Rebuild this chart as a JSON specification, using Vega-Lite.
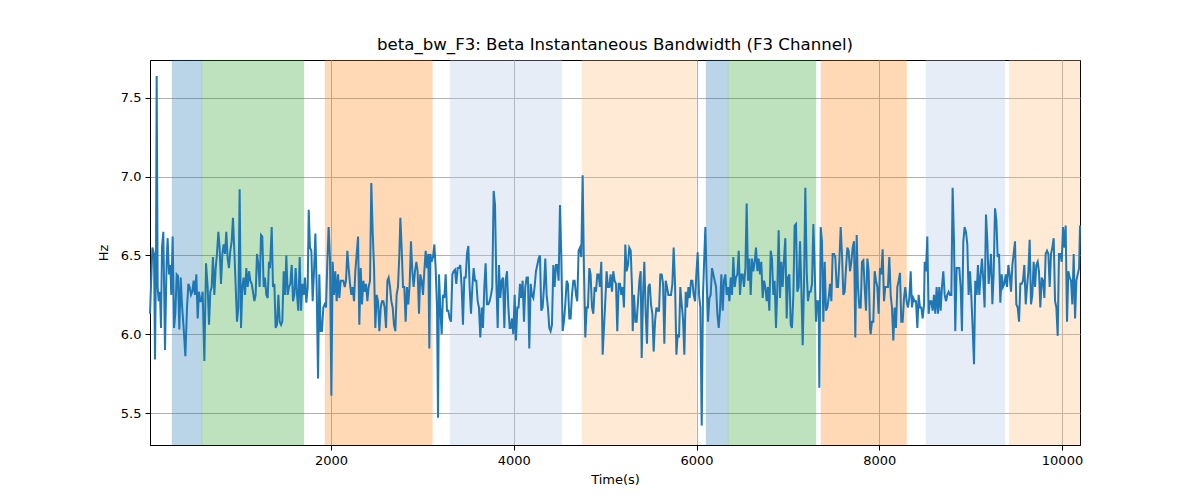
{
  "$schema": "https://vega.github.io/schema/vega-lite/v6.json",
  "width": 930,
  "height": 385,
  "autosize": {"type": "none"},
  "padding": {"left": 150, "top": 60, "right": 120, "bottom": 55},
  "background": "white",
  "config": {
    "view": {"stroke": "black", "strokeWidth": 1},
    "font": "DejaVu Sans",
    "axis": {
      "labelFont": "DejaVu Sans", "labelFontSize": 13, "labelColor": "black",
      "titleFont": "DejaVu Sans", "titleFontSize": 13, "titleFontWeight": "normal", "titleColor": "black",
      "domainColor": "black", "tickColor": "black", "tickSize": 5,
      "gridColor": "#b0b0b0", "gridWidth": 1, "gridOpacity": 1
    }
  },
  "title": {"text": "beta_bw_F3: Beta Instantaneous Bandwidth (F3 Channel)", "fontSize": 16.6, "fontWeight": "normal", "font": "DejaVu Sans", "color": "black", "anchor": "middle", "offset": 6},
  "datasets": {
    "bands": [
      {"start": 260, "end": 588, "kind": "a"},
      {"start": 588, "end": 1704, "kind": "b"},
      {"start": 1934, "end": 3110, "kind": "c"},
      {"start": 3302, "end": 4525, "kind": "d"},
      {"start": 4747, "end": 6000, "kind": "e"},
      {"start": 6104, "end": 6348, "kind": "a"},
      {"start": 6348, "end": 7308, "kind": "b"},
      {"start": 7362, "end": 8300, "kind": "c"},
      {"start": 8511, "end": 9376, "kind": "d"},
      {"start": 9420, "end": 10197, "kind": "e"}
    ],
    "series": [
      {"t":19,"v":6.13},{"t":45,"v":6.55},{"t":63,"v":6.51},{"t":74,"v":5.84},{"t":85,"v":6.51},{"t":92,"v":7.64},{"t":103,"v":6.30},{"t":114,"v":6.21},{"t":128,"v":6.27},{"t":139,"v":6.04},{"t":150,"v":6.55},{"t":165,"v":6.65},{"t":183,"v":5.90},{"t":201,"v":6.46},{"t":212,"v":6.61},{"t":227,"v":6.38},{"t":241,"v":6.44},{"t":252,"v":6.25},{"t":267,"v":6.62},{"t":282,"v":6.04},{"t":296,"v":6.13},{"t":311,"v":6.38},{"t":325,"v":6.37},{"t":340,"v":6.03},{"t":355,"v":6.36},{"t":369,"v":6.19},{"t":387,"v":6.04},{"t":406,"v":5.86},{"t":424,"v":6.17},{"t":439,"v":6.32},{"t":453,"v":6.30},{"t":468,"v":6.25},{"t":482,"v":6.27},{"t":497,"v":6.34},{"t":511,"v":6.25},{"t":526,"v":6.38},{"t":541,"v":6.10},{"t":555,"v":6.27},{"t":570,"v":6.21},{"t":584,"v":6.21},{"t":595,"v":6.27},{"t":614,"v":5.83},{"t":632,"v":6.45},{"t":650,"v":6.30},{"t":665,"v":6.06},{"t":679,"v":6.27},{"t":694,"v":6.30},{"t":708,"v":6.49},{"t":723,"v":6.25},{"t":738,"v":6.42},{"t":752,"v":6.51},{"t":767,"v":6.65},{"t":781,"v":6.55},{"t":796,"v":6.32},{"t":811,"v":6.51},{"t":825,"v":6.57},{"t":840,"v":6.51},{"t":854,"v":6.65},{"t":869,"v":6.48},{"t":883,"v":6.42},{"t":898,"v":6.53},{"t":913,"v":6.59},{"t":927,"v":6.74},{"t":942,"v":6.53},{"t":957,"v":6.30},{"t":971,"v":6.08},{"t":986,"v":6.17},{"t":1000,"v":6.92},{"t":1015,"v":6.04},{"t":1030,"v":6.30},{"t":1044,"v":6.36},{"t":1059,"v":6.25},{"t":1073,"v":6.42},{"t":1088,"v":6.30},{"t":1103,"v":6.40},{"t":1117,"v":6.34},{"t":1132,"v":6.32},{"t":1146,"v":6.27},{"t":1161,"v":6.21},{"t":1175,"v":6.25},{"t":1190,"v":6.51},{"t":1205,"v":6.44},{"t":1219,"v":6.30},{"t":1234,"v":6.63},{"t":1248,"v":6.62},{"t":1263,"v":6.30},{"t":1277,"v":6.36},{"t":1292,"v":6.25},{"t":1307,"v":6.23},{"t":1321,"v":6.46},
      {"t":1332,"v":6.42},{"t":1351,"v":6.68},{"t":1365,"v":6.30},{"t":1380,"v":6.32},{"t":1394,"v":6.04},{"t":1409,"v":6.06},{"t":1424,"v":6.25},{"t":1438,"v":6.08},{"t":1453,"v":6.06},{"t":1467,"v":6.08},{"t":1482,"v":6.40},{"t":1497,"v":6.25},{"t":1511,"v":6.50},{"t":1526,"v":6.25},{"t":1540,"v":6.30},{"t":1555,"v":6.32},{"t":1570,"v":6.44},{"t":1584,"v":6.21},{"t":1599,"v":6.25},{"t":1613,"v":6.42},{"t":1628,"v":6.25},{"t":1642,"v":6.15},{"t":1657,"v":6.49},{"t":1672,"v":6.15},{"t":1686,"v":6.32},{"t":1701,"v":6.25},{"t":1715,"v":6.36},{"t":1730,"v":6.20},{"t":1745,"v":6.30},{"t":1756,"v":6.79},{"t":1770,"v":6.55},{"t":1785,"v":6.53},{"t":1799,"v":6.21},{"t":1814,"v":6.40},{"t":1829,"v":6.64},{"t":1843,"v":6.30},{"t":1858,"v":5.72},{"t":1872,"v":6.38},{"t":1887,"v":6.02},{"t":1901,"v":6.02},{"t":1916,"v":6.17},{"t":1931,"v":6.19},{"t":1945,"v":6.17},{"t":1960,"v":6.46},{"t":1974,"v":6.68},{"t":1989,"v":6.48},{"t":2004,"v":5.61},{"t":2018,"v":6.46},{"t":2033,"v":6.25},{"t":2047,"v":6.40},{"t":2062,"v":6.21},{"t":2077,"v":6.38},{"t":2091,"v":6.23},{"t":2106,"v":6.34},{"t":2120,"v":6.34},{"t":2135,"v":6.34},{"t":2150,"v":6.30},{"t":2164,"v":6.34},{"t":2179,"v":6.53},{"t":2193,"v":6.42},{"t":2208,"v":6.32},{"t":2222,"v":6.25},{"t":2237,"v":6.30},{"t":2252,"v":6.21},{"t":2266,"v":6.40},{"t":2281,"v":6.51},{"t":2296,"v":6.62},{"t":2310,"v":6.06},{"t":2325,"v":6.42},{"t":2339,"v":6.19},{"t":2354,"v":6.34},{"t":2369,"v":6.27},{"t":2383,"v":6.32},{"t":2398,"v":6.21},{"t":2412,"v":6.30},{"t":2427,"v":6.34},{"t":2441,"v":6.96},{"t":2456,"v":6.65},{"t":2471,"v":6.42},{"t":2485,"v":6.04},{"t":2500,"v":6.25},{"t":2514,"v":6.21},{"t":2529,"v":6.02},{"t":2544,"v":6.17},{"t":2558,"v":6.21},{"t":2573,"v":6.21},{"t":2587,"v":6.17},{"t":2602,"v":6.04},{"t":2617,"v":6.34},{"t":2631,"v":6.36},{"t":2646,"v":6.30},
      {"t":2660,"v":6.21},{"t":2675,"v":6.17},{"t":2689,"v":6.06},{"t":2704,"v":6.02},{"t":2718,"v":6.25},{"t":2733,"v":6.30},{"t":2748,"v":6.51},{"t":2759,"v":6.74},{"t":2773,"v":6.55},{"t":2788,"v":6.30},{"t":2802,"v":6.30},{"t":2817,"v":6.08},{"t":2831,"v":6.30},{"t":2846,"v":6.19},{"t":2861,"v":6.32},{"t":2875,"v":6.59},{"t":2890,"v":6.40},{"t":2904,"v":6.30},{"t":2919,"v":6.40},{"t":2934,"v":6.46},{"t":2948,"v":6.40},{"t":2963,"v":6.13},{"t":2977,"v":6.38},{"t":2992,"v":6.34},{"t":3007,"v":6.25},{"t":3021,"v":6.40},{"t":3036,"v":6.53},{"t":3050,"v":6.42},{"t":3065,"v":6.51},{"t":3076,"v":5.91},{"t":3087,"v":6.51},{"t":3101,"v":6.46},{"t":3116,"v":6.49},{"t":3131,"v":6.57},{"t":3145,"v":6.42},{"t":3160,"v":6.17},{"t":3171,"v":5.47},{"t":3182,"v":6.38},{"t":3196,"v":6.17},{"t":3211,"v":6.00},{"t":3225,"v":6.25},{"t":3240,"v":6.23},{"t":3255,"v":6.38},{"t":3269,"v":6.15},{"t":3284,"v":6.15},{"t":3298,"v":6.10},{"t":3313,"v":6.08},{"t":3328,"v":6.38},{"t":3342,"v":6.40},{"t":3357,"v":6.41},{"t":3371,"v":6.32},{"t":3386,"v":6.42},{"t":3401,"v":6.42},{"t":3415,"v":6.44},{"t":3430,"v":6.30},{"t":3444,"v":6.06},{"t":3459,"v":6.36},{"t":3474,"v":6.36},{"t":3488,"v":6.51},{"t":3503,"v":6.56},{"t":3517,"v":6.30},{"t":3532,"v":6.13},{"t":3547,"v":6.30},{"t":3561,"v":6.42},{"t":3576,"v":6.34},{"t":3590,"v":6.34},{"t":3605,"v":6.21},{"t":3619,"v":6.17},{"t":3634,"v":5.98},{"t":3649,"v":6.17},{"t":3663,"v":6.04},{"t":3678,"v":6.30},{"t":3692,"v":6.45},{"t":3707,"v":6.19},{"t":3722,"v":6.19},{"t":3736,"v":6.21},{"t":3751,"v":6.25},{"t":3765,"v":6.30},{"t":3780,"v":6.91},{"t":3795,"v":6.82},{"t":3809,"v":6.34},{"t":3824,"v":6.04},{"t":3838,"v":6.44},{"t":3853,"v":6.23},{"t":3868,"v":6.34},{"t":3882,"v":6.36},{"t":3897,"v":6.04},{"t":3911,"v":6.34},{"t":3926,"v":6.40},{"t":3941,"v":6.17},{"t":3955,"v":6.04},
      {"t":3966,"v":6.04},{"t":3980,"v":6.10},{"t":3995,"v":6.00},{"t":4010,"v":6.25},{"t":4024,"v":5.96},{"t":4039,"v":6.17},{"t":4053,"v":6.17},{"t":4068,"v":6.32},{"t":4082,"v":6.23},{"t":4097,"v":6.34},{"t":4112,"v":6.08},{"t":4126,"v":6.30},{"t":4141,"v":6.36},{"t":4155,"v":6.36},{"t":4170,"v":5.91},{"t":4185,"v":6.32},{"t":4199,"v":6.25},{"t":4214,"v":6.23},{"t":4228,"v":6.30},{"t":4243,"v":6.40},{"t":4258,"v":6.44},{"t":4272,"v":6.48},{"t":4287,"v":6.50},{"t":4301,"v":6.15},{"t":4316,"v":6.17},{"t":4331,"v":6.30},{"t":4345,"v":6.48},{"t":4360,"v":6.25},{"t":4374,"v":6.17},{"t":4389,"v":6.04},{"t":4403,"v":6.02},{"t":4418,"v":6.06},{"t":4433,"v":6.44},{"t":4447,"v":6.30},{"t":4462,"v":6.44},{"t":4476,"v":6.44},{"t":4491,"v":6.34},{"t":4506,"v":6.82},{"t":4520,"v":6.51},{"t":4535,"v":6.02},{"t":4549,"v":6.08},{"t":4564,"v":6.19},{"t":4579,"v":6.34},{"t":4593,"v":6.32},{"t":4608,"v":6.10},{"t":4622,"v":6.10},{"t":4637,"v":6.25},{"t":4652,"v":6.34},{"t":4666,"v":6.34},{"t":4681,"v":6.25},{"t":4695,"v":6.21},{"t":4710,"v":6.53},{"t":4725,"v":6.55},{"t":4739,"v":6.49},{"t":4754,"v":7.01},{"t":4768,"v":6.42},{"t":4783,"v":5.98},{"t":4798,"v":6.17},{"t":4812,"v":6.17},{"t":4827,"v":6.42},{"t":4841,"v":6.38},{"t":4856,"v":6.17},{"t":4871,"v":6.13},{"t":4885,"v":6.30},{"t":4900,"v":6.27},{"t":4914,"v":6.38},{"t":4929,"v":6.38},{"t":4943,"v":6.30},{"t":4958,"v":6.46},{"t":4973,"v":5.87},{"t":4987,"v":6.04},{"t":5002,"v":6.21},{"t":5016,"v":6.40},{"t":5031,"v":6.30},{"t":5046,"v":6.30},{"t":5060,"v":6.38},{"t":5075,"v":6.27},{"t":5089,"v":6.40},{"t":5104,"v":6.34},{"t":5119,"v":6.32},{"t":5133,"v":6.02},{"t":5148,"v":6.32},{"t":5162,"v":6.32},{"t":5177,"v":6.25},{"t":5191,"v":6.30},{"t":5206,"v":6.17},{"t":5221,"v":6.57},{"t":5235,"v":6.40},{"t":5250,"v":6.44},{"t":5264,"v":6.55},
      {"t":5280,"v":6.53},{"t":5294,"v":6.30},{"t":5302,"v":6.02},{"t":5316,"v":6.25},{"t":5331,"v":6.08},{"t":5345,"v":6.08},{"t":5360,"v":6.21},{"t":5375,"v":6.34},{"t":5389,"v":6.40},{"t":5400,"v":5.85},{"t":5415,"v":6.25},{"t":5429,"v":6.46},{"t":5444,"v":6.13},{"t":5458,"v":5.94},{"t":5473,"v":6.30},{"t":5488,"v":6.32},{"t":5502,"v":6.19},{"t":5517,"v":6.13},{"t":5531,"v":5.89},{"t":5546,"v":6.08},{"t":5561,"v":6.17},{"t":5575,"v":6.15},{"t":5590,"v":6.15},{"t":5604,"v":6.38},{"t":5619,"v":6.38},{"t":5634,"v":6.32},{"t":5648,"v":5.94},{"t":5663,"v":6.34},{"t":5677,"v":6.30},{"t":5692,"v":6.25},{"t":5707,"v":6.25},{"t":5721,"v":6.25},{"t":5736,"v":6.32},{"t":5750,"v":6.55},{"t":5765,"v":6.32},{"t":5780,"v":5.87},{"t":5794,"v":6.00},{"t":5809,"v":5.98},{"t":5823,"v":6.30},{"t":5838,"v":6.19},{"t":5852,"v":6.10},{"t":5867,"v":5.87},{"t":5882,"v":6.27},{"t":5896,"v":6.17},{"t":5911,"v":6.30},{"t":5925,"v":6.23},{"t":5940,"v":6.34},{"t":5955,"v":6.34},{"t":5969,"v":6.25},{"t":5984,"v":6.21},{"t":5998,"v":6.38},{"t":6013,"v":6.52},{"t":6028,"v":6.25},{"t":6042,"v":6.17},{"t":6057,"v":5.42},{"t":6071,"v":6.25},{"t":6086,"v":6.51},{"t":6097,"v":6.68},{"t":6111,"v":6.34},{"t":6126,"v":6.08},{"t":6141,"v":6.23},{"t":6155,"v":6.25},{"t":6170,"v":6.42},{"t":6184,"v":6.38},{"t":6199,"v":6.34},{"t":6214,"v":6.30},{"t":6228,"v":6.13},{"t":6243,"v":6.04},{"t":6257,"v":6.15},{"t":6272,"v":6.38},{"t":6287,"v":6.15},{"t":6301,"v":6.34},{"t":6316,"v":6.38},{"t":6330,"v":6.25},{"t":6345,"v":6.30},{"t":6360,"v":6.21},{"t":6374,"v":6.36},{"t":6389,"v":6.25},{"t":6403,"v":6.49},{"t":6418,"v":6.30},{"t":6432,"v":6.36},{"t":6447,"v":6.38},{"t":6462,"v":6.53},{"t":6476,"v":6.25},{"t":6491,"v":6.38},{"t":6505,"v":6.38},{"t":6520,"v":6.30},{"t":6535,"v":6.42},{"t":6549,"v":6.83},{"t":6564,"v":6.34},{"t":6578,"v":6.48},
      {"t":6593,"v":6.25},{"t":6607,"v":6.48},{"t":6622,"v":6.40},{"t":6637,"v":6.46},{"t":6651,"v":6.55},{"t":6666,"v":6.40},{"t":6680,"v":6.48},{"t":6695,"v":6.38},{"t":6709,"v":6.46},{"t":6724,"v":6.23},{"t":6739,"v":6.34},{"t":6753,"v":6.30},{"t":6768,"v":6.21},{"t":6782,"v":6.30},{"t":6797,"v":6.15},{"t":6812,"v":6.53},{"t":6826,"v":6.48},{"t":6841,"v":6.25},{"t":6855,"v":6.34},{"t":6870,"v":6.04},{"t":6885,"v":6.30},{"t":6899,"v":6.66},{"t":6914,"v":6.23},{"t":6928,"v":6.46},{"t":6943,"v":6.30},{"t":6958,"v":6.48},{"t":6972,"v":6.61},{"t":6987,"v":6.10},{"t":7001,"v":6.36},{"t":7016,"v":6.38},{"t":7031,"v":6.06},{"t":7045,"v":6.04},{"t":7060,"v":6.25},{"t":7074,"v":6.69},{"t":7089,"v":6.70},{"t":7103,"v":6.27},{"t":7118,"v":6.30},{"t":7133,"v":6.59},{"t":7147,"v":6.30},{"t":7162,"v":5.93},{"t":7176,"v":6.30},{"t":7191,"v":6.93},{"t":7206,"v":6.40},{"t":7220,"v":6.21},{"t":7235,"v":6.27},{"t":7249,"v":6.27},{"t":7264,"v":6.32},{"t":7279,"v":6.70},{"t":7293,"v":6.42},{"t":7308,"v":6.08},{"t":7322,"v":6.21},{"t":7337,"v":6.21},{"t":7344,"v":5.66},{"t":7359,"v":6.68},{"t":7373,"v":6.59},{"t":7388,"v":6.08},{"t":7403,"v":6.46},{"t":7417,"v":6.15},{"t":7432,"v":6.17},{"t":7446,"v":6.23},{"t":7461,"v":6.32},{"t":7476,"v":6.21},{"t":7490,"v":6.51},{"t":7505,"v":6.51},{"t":7519,"v":6.49},{"t":7534,"v":6.30},{"t":7549,"v":6.30},{"t":7563,"v":6.46},{"t":7578,"v":6.68},{"t":7592,"v":6.51},{"t":7607,"v":6.25},{"t":7622,"v":6.27},{"t":7636,"v":6.42},{"t":7651,"v":6.55},{"t":7665,"v":6.53},{"t":7680,"v":6.40},{"t":7695,"v":6.46},{"t":7709,"v":6.55},{"t":7724,"v":6.59},{"t":7738,"v":5.98},{"t":7753,"v":6.63},{"t":7767,"v":6.30},{"t":7782,"v":6.17},{"t":7797,"v":6.17},{"t":7811,"v":6.46},{"t":7826,"v":6.47},{"t":7840,"v":6.30},{"t":7855,"v":6.15},{"t":7870,"v":6.48},{"t":7884,"v":6.40},{"t":7899,"v":6.04},
      {"t":7906,"v":6.00},{"t":7920,"v":6.08},{"t":7935,"v":6.08},{"t":7950,"v":6.40},{"t":7964,"v":6.34},{"t":7979,"v":6.30},{"t":7993,"v":6.13},{"t":8008,"v":6.42},{"t":8022,"v":6.38},{"t":8037,"v":6.54},{"t":8052,"v":6.21},{"t":8066,"v":6.30},{"t":8081,"v":6.30},{"t":8095,"v":6.30},{"t":8110,"v":6.49},{"t":8125,"v":6.25},{"t":8139,"v":6.17},{"t":8154,"v":5.96},{"t":8168,"v":6.17},{"t":8183,"v":6.04},{"t":8198,"v":6.30},{"t":8212,"v":6.34},{"t":8227,"v":6.39},{"t":8241,"v":6.08},{"t":8256,"v":6.08},{"t":8271,"v":6.23},{"t":8285,"v":6.30},{"t":8300,"v":6.21},{"t":8314,"v":6.17},{"t":8329,"v":6.23},{"t":8344,"v":6.40},{"t":8358,"v":6.17},{"t":8373,"v":6.23},{"t":8387,"v":6.21},{"t":8402,"v":6.21},{"t":8417,"v":6.04},{"t":8431,"v":6.25},{"t":8446,"v":6.17},{"t":8460,"v":6.17},{"t":8475,"v":6.10},{"t":8490,"v":6.19},{"t":8497,"v":6.46},{"t":8511,"v":6.40},{"t":8526,"v":6.62},{"t":8540,"v":6.13},{"t":8555,"v":6.21},{"t":8570,"v":6.21},{"t":8584,"v":6.15},{"t":8599,"v":6.25},{"t":8613,"v":6.13},{"t":8628,"v":6.30},{"t":8643,"v":6.13},{"t":8657,"v":6.30},{"t":8672,"v":6.15},{"t":8686,"v":6.30},{"t":8701,"v":6.40},{"t":8716,"v":6.25},{"t":8730,"v":6.21},{"t":8745,"v":6.25},{"t":8759,"v":6.27},{"t":8774,"v":6.25},{"t":8789,"v":6.25},{"t":8803,"v":6.93},{"t":8818,"v":6.59},{"t":8832,"v":6.02},{"t":8847,"v":6.42},{"t":8862,"v":6.42},{"t":8876,"v":6.42},{"t":8891,"v":6.30},{"t":8905,"v":6.02},{"t":8920,"v":6.59},{"t":8934,"v":6.68},{"t":8949,"v":6.65},{"t":8964,"v":6.57},{"t":8978,"v":6.25},{"t":8993,"v":6.40},{"t":9007,"v":6.25},{"t":9022,"v":6.04},{"t":9037,"v":5.81},{"t":9051,"v":6.34},{"t":9066,"v":6.25},{"t":9080,"v":6.44},{"t":9095,"v":6.25},{"t":9110,"v":6.38},{"t":9124,"v":6.48},{"t":9139,"v":6.34},{"t":9153,"v":6.17},{"t":9168,"v":6.76},{"t":9183,"v":6.59},{"t":9197,"v":6.32},{"t":9212,"v":6.42},
      {"t":9223,"v":6.51},{"t":9238,"v":6.19},{"t":9252,"v":6.38},{"t":9267,"v":6.80},{"t":9282,"v":6.72},{"t":9296,"v":6.49},{"t":9311,"v":6.51},{"t":9325,"v":6.20},{"t":9340,"v":6.38},{"t":9354,"v":6.30},{"t":9369,"v":6.32},{"t":9384,"v":6.38},{"t":9398,"v":6.30},{"t":9413,"v":6.44},{"t":9427,"v":6.38},{"t":9442,"v":6.27},{"t":9457,"v":6.44},{"t":9471,"v":6.51},{"t":9486,"v":6.59},{"t":9500,"v":6.19},{"t":9515,"v":6.17},{"t":9530,"v":6.08},{"t":9544,"v":6.32},{"t":9559,"v":6.32},{"t":9573,"v":6.34},{"t":9588,"v":6.44},{"t":9603,"v":6.19},{"t":9617,"v":6.30},{"t":9632,"v":6.40},{"t":9646,"v":6.60},{"t":9661,"v":6.19},{"t":9675,"v":6.25},{"t":9690,"v":6.46},{"t":9705,"v":6.30},{"t":9719,"v":6.44},{"t":9734,"v":6.46},{"t":9748,"v":6.40},{"t":9763,"v":6.17},{"t":9778,"v":6.36},{"t":9792,"v":6.34},{"t":9807,"v":6.23},{"t":9821,"v":6.51},{"t":9836,"v":6.53},{"t":9851,"v":6.51},{"t":9865,"v":6.30},{"t":9880,"v":6.51},{"t":9894,"v":6.55},{"t":9909,"v":6.61},{"t":9924,"v":6.21},{"t":9938,"v":6.17},{"t":9953,"v":5.99},{"t":9967,"v":6.51},{"t":9982,"v":6.51},{"t":9997,"v":6.46},{"t":10011,"v":6.68},{"t":10026,"v":6.55},{"t":10040,"v":6.69},{"t":10055,"v":6.08},{"t":10069,"v":6.40},{"t":10084,"v":6.36},{"t":10099,"v":6.34},{"t":10113,"v":6.19},{"t":10128,"v":6.51},{"t":10143,"v":6.10},{"t":10157,"v":6.34},{"t":10172,"v":6.38},{"t":10187,"v":6.42},{"t":10197,"v":6.69}
    ]
  },
  "layer": [
    {
      "data": {"name": "bands"},
      "mark": {"type": "rect", "opacity": 0.3, "strokeWidth": 1, "strokeOpacity": 0.3},
      "encoding": {
        "x": {"field": "start", "type": "quantitative", "scale": {"domain": [19, 10197], "nice": false, "zero": false}, "axis": {"title": "Time(s)", "values": [2000, 4000, 6000, 8000, 10000], "format": "d", "grid": true, "titlePadding": 6, "labelPadding": 4}},
        "x2": {"field": "end"},
        "color": {"field": "kind", "type": "nominal", "legend": null, "scale": {"domain": ["a", "b", "c", "d", "e"], "range": ["#1f77b4", "#2ca02c", "#ff7f0e", "#aec7e8", "#ffbb78"]}},
        "stroke": {"field": "kind", "type": "nominal", "legend": null, "scale": {"domain": ["a", "b", "c", "d", "e"], "range": ["#1f77b4", "#2ca02c", "#ff7f0e", "#aec7e8", "#ffbb78"]}}
      }
    },
    {
      "data": {"name": "series"},
      "mark": {"type": "line", "color": "#1f77b4", "strokeWidth": 2},
      "encoding": {
        "x": {"field": "t", "type": "quantitative"},
        "y": {"field": "v", "type": "quantitative", "scale": {"domain": [5.297, 7.741], "nice": false, "zero": false}, "axis": {"title": "Hz", "values": [5.5, 6.0, 6.5, 7.0, 7.5], "format": ".1f", "grid": true, "titlePadding": 10, "labelPadding": 4}}
      }
    }
  ]
}
